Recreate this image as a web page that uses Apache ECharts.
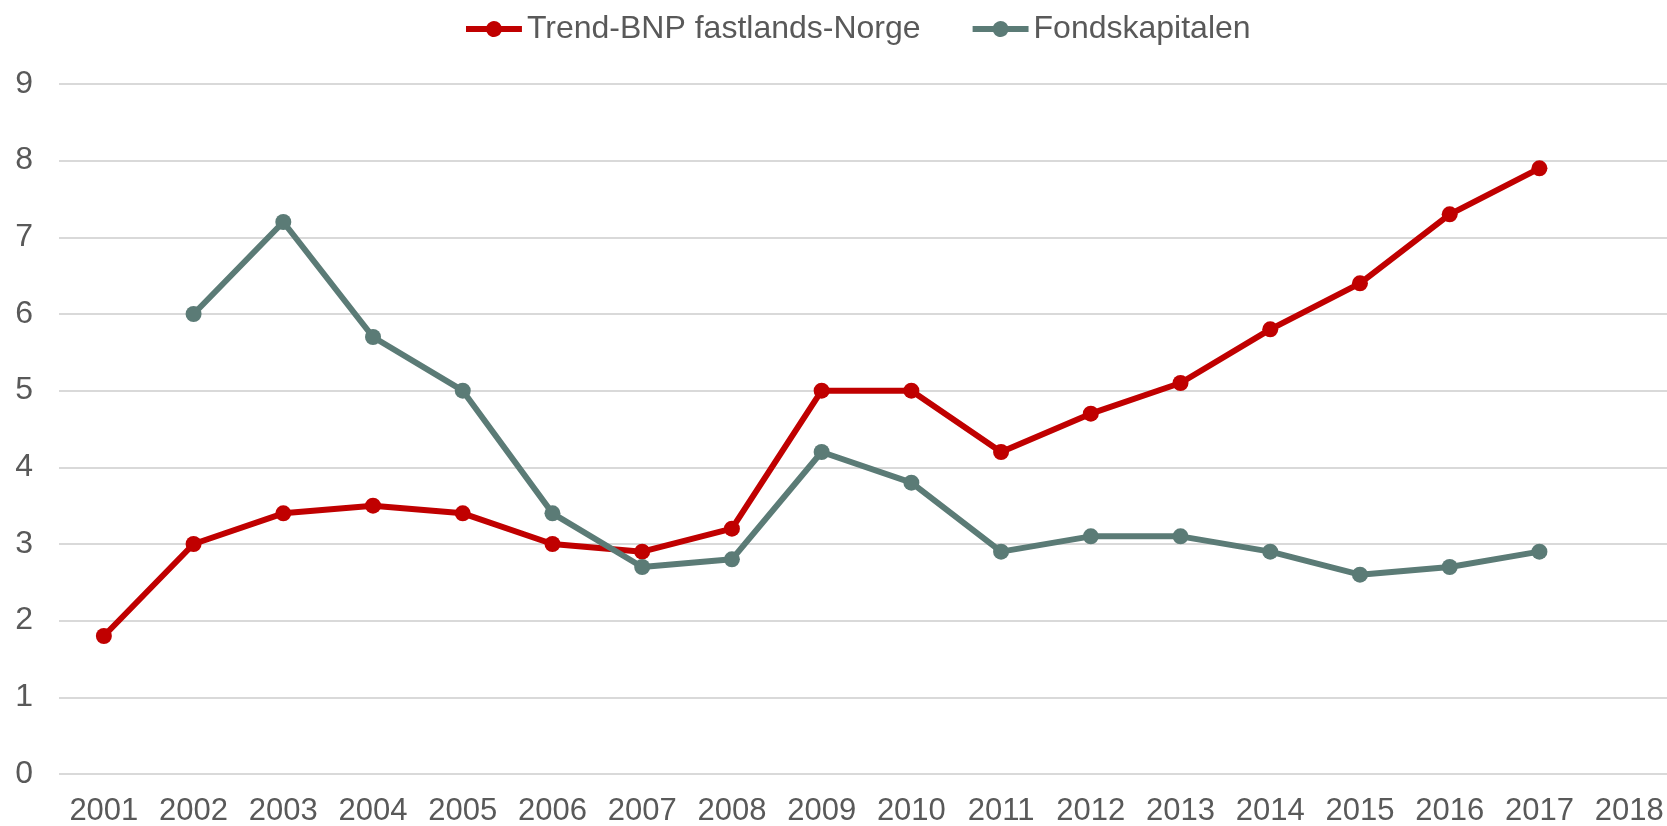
<!DOCTYPE html>
<html>
<head>
<meta charset="utf-8">
<script src="https://cdn.jsdelivr.net/npm/echarts@6/dist/echarts.min.js"></script>
<style>
    html, body { margin: 0; padding: 0; background: #fff; }
    #chart { width: 1667px; height: 826px; }
</style>
</head>
<body>
<div id="chart"></div>
<script>
    // år på x-aksen
    const years = ['2001', '2002', '2003', '2004', '2005', '2006', '2007', '2008', '2009',
        '2010', '2011', '2012', '2013', '2014', '2015', '2016', '2017', '2018'];
    const trendBnp = [1.8, 3.0, 3.4, 3.5, 3.4, 3.0, 2.9, 3.2, 5.0, 5.0, 4.2, 4.7, 5.1, 5.8, 6.4, 7.3, 7.9, null];
    const fondskapital = [null, 6.0, 7.2, 5.7, 5.0, 3.4, 2.7, 2.8, 4.2, 3.8, 2.9, 3.1, 3.1, 2.9, 2.6, 2.7, 2.9, null];

    const font = 'Liberation Sans, Arial, sans-serif';
    const textColor = '#595959';
    // strek med prikk i midten, som i Excel-forklaringen
    const legendIcon = 'path://M0,5 L20.58,5 A8,8 0 0,1 35.42,5 L56,5 L56,11 L35.42,11 A8,8 0 0,1 20.58,11 L0,11 Z';

    let myChart = echarts.init(document.getElementById('chart'));

    let option = {
        animation: false,
        legend: {
            top: 8,
            left: 461,
            icon: legendIcon,
            itemWidth: 56,
            itemHeight: 16,
            itemGap: 52,
            textStyle: { fontFamily: font, fontSize: 32, color: textColor },
            data: ['Trend-BNP fastlands-Norge', 'Fondskapitalen']
        },
        grid: {
            left: 59,
            top: 84,
            width: 1615,
            height: 690,
            outerBoundsMode: 'none'
        },
        xAxis: {
            type: 'category',
            data: years,
            axisLine: { show: false },
            axisTick: { show: false },
            axisLabel: { fontFamily: font, fontSize: 31, color: textColor, margin: 22, interval: 0 }
        },
        yAxis: {
            type: 'value',
            min: 0,
            max: 9,
            interval: 1,
            axisLabel: { fontFamily: font, fontSize: 32, color: textColor, margin: 26 },
            splitLine: { lineStyle: { color: '#d9d9d9', width: 2 } }
        },
        series: [
            {
                name: 'Trend-BNP fastlands-Norge',
                type: 'line',
                data: trendBnp,
                symbol: 'circle',
                symbolSize: 16,
                itemStyle: { color: '#c00000' },
                lineStyle: { color: '#c00000', width: 6 }
            },
            {
                name: 'Fondskapitalen',
                type: 'line',
                data: fondskapital,
                symbol: 'circle',
                symbolSize: 16,
                itemStyle: { color: '#5b7b76' },
                lineStyle: { color: '#5b7b76', width: 6 }
            }
        ]
    };

    myChart.setOption(option);
</script>
</body>
</html>
